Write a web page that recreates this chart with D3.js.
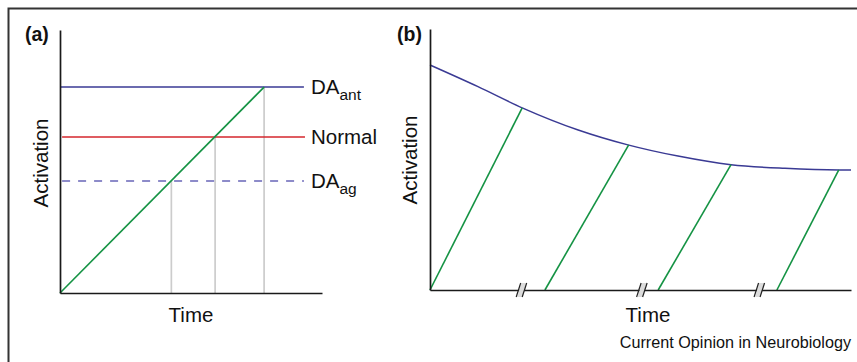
<!DOCTYPE html>
<html><head><meta charset="utf-8">
<script src="https://cdn.jsdelivr.net/npm/d3@7"></script>
<style>body{margin:0;background:#fff}svg{display:block;font-family:"Liberation Sans",Arial,sans-serif}</style>
</head><body><svg id="c" width="857" height="362"></svg>
<script>
// Panel (a) data (time 0-100, activation 0-100)
const levelNames = ["DA_ant", "Normal", "DA_ag"];
const levelValues = [78.3, 59.3, 42.6];
const levelStart = [0, 0.8, 0.8];
const levelEnd = [93.1, 93.5, 93.1];
const rampA = [[0, 0], [77.9, 78.3]];
const dropTimes = [42.5, 59.2, 77.9];
// Panel (b) data
const decayTime = [0, 11.4, 21.9, 35.2, 47.0, 58.9, 71.5, 84.3, 97.1, 100];
const decayValue = [86.2, 77.9, 69.8, 61.3, 55.6, 51.3, 48.0, 46.6, 46.0, 46.0];
const rampStartB = [0, 27.3, 54.2, 82.4];
const rampEndTimeB = [21.9, 47.2, 71.5, 97.1];
const rampEndValueB = [69.8, 55.6, 48.0, 46.0];
const breakTimes = [21.9, 50.5, 78.4];

const svg = d3.select("#c");
const axisCol = "#1a1a1a";
const navy = "#3a3a94", red = "#d4262c", green = "#159344", dashCol = "#6866b8", gray = "#cccccc";

// outer frame
svg.append("path").attr("d", "M8.5,362 L8.5,8.5 L857,8.5").attr("fill", "none").attr("stroke", "#333").attr("stroke-width", 2);

// ---------- Panel (a)
const xa = d3.scaleLinear().domain([0, 100]).range([60, 322]);
const ya = d3.scaleLinear().domain([0, 100]).range([293, 30]);
const ga = svg.append("g");
ga.selectAll(".drop").data(dropTimes).join("line")
  .attr("x1", d => xa(d)).attr("x2", d => xa(d))
  .attr("y1", (d, i) => ya(levelValues[2 - i])).attr("y2", ya(0))
  .attr("stroke", gray).attr("stroke-width", 1.7);
const lvColors = [navy, red, dashCol];
ga.selectAll(".lv").data(levelValues).join("line")
  .attr("x1", (d, i) => xa(levelStart[i])).attr("x2", (d, i) => xa(levelEnd[i]))
  .attr("y1", d => ya(d)).attr("y2", d => ya(d))
  .attr("stroke", (d, i) => lvColors[i]).attr("stroke-width", 1.5)
  .attr("stroke-dasharray", (d, i) => i === 2 ? "8,8" : null);
ga.append("path").datum(rampA).attr("d", d3.line().x(d => xa(d[0])).y(d => ya(d[1])))
  .attr("fill", "none").attr("stroke", green).attr("stroke-width", 1.6);
const axA = d3.axisLeft(ya).tickValues([]).tickSizeOuter(0);
ga.append("g").attr("transform", `translate(${xa(0)},0)`).call(axA)
  .call(g => g.select(".domain").attr("stroke", axisCol).attr("stroke-width", 1.7));
const axAx = d3.axisBottom(xa).tickValues([]).tickSizeOuter(0);
ga.append("g").attr("transform", `translate(0,${ya(0)})`).call(axAx)
  .call(g => g.select(".domain").attr("stroke", axisCol).attr("stroke-width", 1.7));
const lvLabel = [["DA", "ant"], ["Normal", ""], ["DA", "ag"]];
lvLabel.forEach((l, i) => {
  const t = ga.append("text").attr("x", 311).attr("y", ya(levelValues[i]) + 7)
    .attr("font-size", 20.5).attr("fill", "#111");
  t.append("tspan").text(l[0]);
  if (l[1]) t.append("tspan").attr("font-size", 15.5).attr("dy", 6).text(l[1]);
});
ga.append("text").attr("x", 25).attr("y", 41).attr("font-size", 19.5).attr("font-weight", "bold").attr("fill", "#111").text("(a)");
ga.append("text").attr("transform", "translate(48,163) rotate(-90)").attr("text-anchor", "middle")
  .attr("font-size", 20.5).attr("fill", "#111").text("Activation");
ga.append("text").attr("x", 191).attr("y", 322).attr("text-anchor", "middle")
  .attr("font-size", 20.5).attr("fill", "#111").text("Time");

// ---------- Panel (b)
const xb = d3.scaleLinear().domain([0, 100]).range([430, 851]);
const yb = d3.scaleLinear().domain([0, 100]).range([290, 29]);
const gb = svg.append("g");
const curve = decayTime.map((t, i) => [t, decayValue[i]]);
gb.append("path").datum(curve).attr("d", d3.line().curve(d3.curveMonotoneX).x(d => xb(d[0])).y(d => yb(d[1])))
  .attr("fill", "none").attr("stroke", navy).attr("stroke-width", 1.5);
gb.selectAll(".rb").data(rampStartB).join("line")
  .attr("x1", d => xb(d)).attr("y1", yb(0))
  .attr("x2", (d, i) => xb(rampEndTimeB[i])).attr("y2", (d, i) => yb(rampEndValueB[i]))
  .attr("stroke", green).attr("stroke-width", 1.6);
const axB = d3.axisLeft(yb).tickValues([]).tickSizeOuter(0);
gb.append("g").attr("transform", `translate(${xb(0)},0)`).call(axB)
  .call(g => g.select(".domain").attr("stroke", axisCol).attr("stroke-width", 1.7));
const axBx = d3.axisBottom(xb).tickValues([]).tickSizeOuter(0);
gb.append("g").attr("transform", `translate(0,${yb(0)})`).call(axBx)
  .call(g => g.select(".domain").attr("stroke", axisCol).attr("stroke-width", 1.7));
const bk = gb.selectAll(".bk").data(breakTimes).join("g")
  .attr("transform", d => `translate(${xb(d)},${yb(0)})`);
bk.append("path").attr("d", "M-5,7 L-1,-7 L4,-7 L0,7 Z").attr("fill", "#dcdcdc");
bk.append("line").attr("x1", -6).attr("y1", 7).attr("x2", -1.5).attr("y2", -7).attr("stroke", "#222").attr("stroke-width", 1.2);
bk.append("line").attr("x1", 0).attr("y1", 7).attr("x2", 4.5).attr("y2", -7).attr("stroke", "#222").attr("stroke-width", 1.2);

gb.append("text").attr("x", 397).attr("y", 41).attr("font-size", 19.5).attr("font-weight", "bold").attr("fill", "#111").text("(b)");
gb.append("text").attr("transform", "translate(417,160) rotate(-90)").attr("text-anchor", "middle")
  .attr("font-size", 20.5).attr("fill", "#111").text("Activation");
gb.append("text").attr("x", 648).attr("y", 322).attr("text-anchor", "middle")
  .attr("font-size", 20.5).attr("fill", "#111").text("Time");
gb.append("text").attr("x", 851).attr("y", 348).attr("text-anchor", "end")
  .attr("font-size", 16.2).attr("fill", "#111").text("Current Opinion in Neurobiology");
</script></body></html>
